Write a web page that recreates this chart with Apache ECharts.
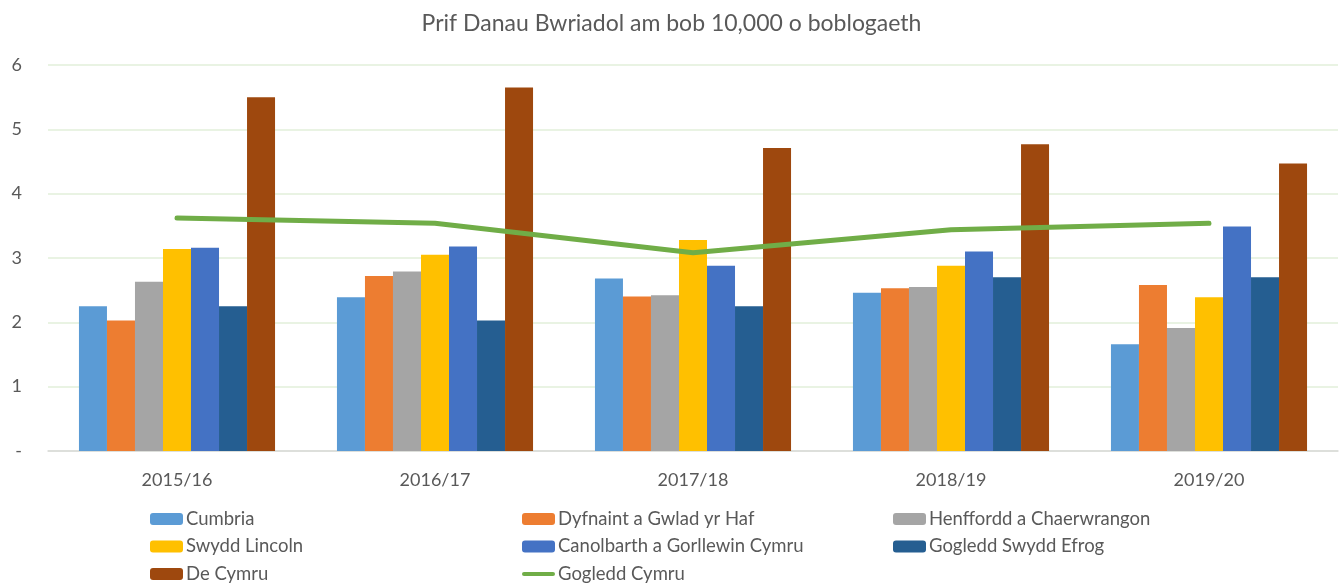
<!DOCTYPE html>
<html>
<head>
<meta charset="utf-8">
<script src="https://cdn.jsdelivr.net/npm/echarts@6/dist/echarts.min.js"></script>
<style>
  html, body { margin: 0; padding: 0; background: #fff; }
  #chart { width: 1343px; height: 584px; }
</style>
</head>
<body>
<div id="chart"></div>
<script>
// Financial years on the category axis
const years = ['2015/16', '2016/17', '2017/18', '2018/19', '2019/20'];

// Primary deliberate fires per 10,000 population, by fire and rescue area
const cumbria = [2.25, 2.39, 2.68, 2.46, 1.66];
const dyfnaint = [2.03, 2.72, 2.40, 2.53, 2.58];
const henffordd = [2.63, 2.79, 2.42, 2.55, 1.91];
const swyddLincoln = [3.14, 3.05, 3.28, 2.88, 2.39];
const canolbarth = [3.16, 3.18, 2.88, 3.10, 3.49];
const gogleddEfrog = [2.25, 2.03, 2.25, 2.70, 2.70];
const deCymru = [5.50, 5.65, 4.71, 4.77, 4.47];
const gogleddCymru = [3.62, 3.54, 3.08, 3.44, 3.54];

// Value-axis tick labels (zero shown as a dash)
const yTickLabels = { 0: '-', 1: '1', 2: '2', 3: '3', 4: '4', 5: '5', 6: '6' };

const FONT = 'Lato, "Open Sans", sans-serif';
const TEXT = '#595959';
const LINE_ICON = 'path://M2,0 L31,0 A2,2 0 0 1 31,4 L2,4 A2,2 0 0 1 2,0 Z';

const barSeries = [
  ['Cumbria', cumbria, '#5B9BD5'],
  ['Dyfnaint a Gwlad yr Haf', dyfnaint, '#ED7D31'],
  ['Henffordd a Chaerwrangon', henffordd, '#A5A5A5'],
  ['Swydd Lincoln', swyddLincoln, '#FFC000'],
  ['Canolbarth a Gorllewin Cymru', canolbarth, '#4472C4'],
  ['Gogledd Swydd Efrog', gogleddEfrog, '#255E91'],
  ['De Cymru', deCymru, '#9E480E']
].map(([name, data, color]) => ({
  name, type: 'bar', data,
  barGap: '0%', barCategoryGap: '24%',
  itemStyle: { color },
  emphasis: { disabled: true }
}));

const lineSeries = {
  name: 'Gogledd Cymru', type: 'line', data: gogleddCymru,
  symbol: 'none', z: 5,
  lineStyle: { color: '#70AD47', width: 5, cap: 'round', join: 'round' },
  itemStyle: { color: '#70AD47' },
  emphasis: { disabled: true }
};

const legendBase = {
  orient: 'vertical', top: 509, height: 100, padding: 0,
  itemWidth: 33, itemHeight: 12, itemGap: 7.5,
  textStyle: { fontFamily: FONT, fontSize: 18.5, color: TEXT, padding: [0, 0, 0, -2], lineHeight: 20 },
  selectedMode: false
};

const chart = echarts.init(document.getElementById('chart'));
chart.setOption({
  animation: false,
  textStyle: { fontFamily: FONT },
  title: {
    text: 'Prif Danau Bwriadol am bob 10,000 o boblogaeth',
    left: 'center', top: 7,
    textStyle: { fontFamily: FONT, fontSize: 23, fontWeight: 'normal', color: TEXT }
  },
  legend: [
    Object.assign({ left: 150, data: ['Cumbria', 'Swydd Lincoln', 'De Cymru'] }, legendBase),
    Object.assign({ left: 522, data: ['Dyfnaint a Gwlad yr Haf', 'Canolbarth a Gorllewin Cymru',
      { name: 'Gogledd Cymru', icon: LINE_ICON }] }, legendBase),
    Object.assign({ left: 893, data: ['Henffordd a Chaerwrangon', 'Gogledd Swydd Efrog'] }, legendBase)
  ],
  grid: { left: 48, right: 5, top: 65, bottom: 133, containLabel: false },
  xAxis: {
    type: 'category', data: years,
    axisLine: { lineStyle: { color: '#D9D9D9', width: 1.5 } },
    axisTick: { show: false },
    axisLabel: { fontFamily: FONT, fontSize: 18, color: TEXT, margin: 20 }
  },
  yAxis: {
    type: 'value', min: 0, max: 6, interval: 1,
    axisLine: { show: false }, axisTick: { show: false },
    splitLine: { lineStyle: { color: '#E2EFDA', width: 1.5 } },
    axisLabel: {
      fontFamily: FONT, fontSize: 18, color: TEXT, margin: 26,
      formatter: v => yTickLabels[v]
    }
  },
  series: barSeries.concat([lineSeries])
});
</script>
</body>
</html>
